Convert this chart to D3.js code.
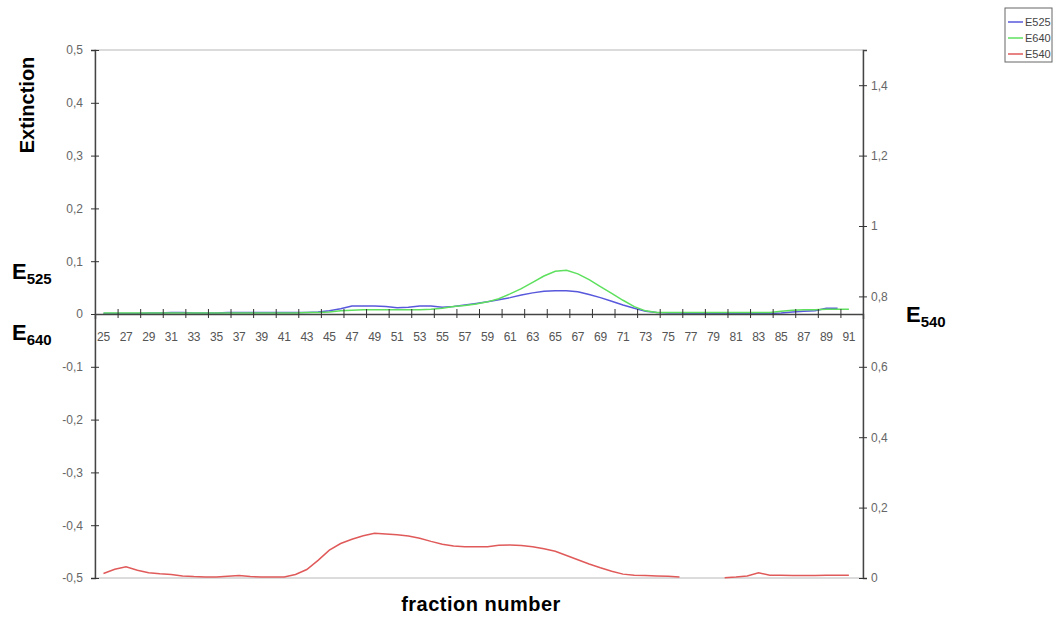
<!DOCTYPE html>
<html>
<head>
<meta charset="utf-8">
<script src="https://cdn.jsdelivr.net/npm/d3@7"></script>
<style>
  body { margin: 0; background: #fff; }
  text { font-family: Arial, "Liberation Sans", sans-serif; }
</style>
</head>
<body>
<svg width="1054" height="623"></svg>
<script>
// номера фракций
const fractions = [25,26,27,28,29,30,31,32,33,34,35,36,37,38,39,40,41,42,43,44,45,46,47,48,49,50,
  51,52,53,54,55,56,57,58,59,60,61,62,63,64,65,66,67,68,69,70,71,72,73,74,75,76,77,78,79,80,
  81,82,83,84,85,86,87,88,89,90,91];

// левая ось
const e525 = [0.001,0.001,0.001,0.001, 0.002,0.002,0.003,0.003, 0.002,0.002,0.002,0.003,
  0.003,0.003,0.003,0.003, 0.003,0.003,0.003,0.004, 0.006,0.010,0.015,0.015,
  0.015,0.014,0.012,0.013, 0.015,0.015,0.013,0.014, 0.017,0.020,0.023,0.027,
  0.031,0.036,0.040,0.043, 0.044,0.044,0.042,0.037, 0.031,0.024,0.017,0.011,
  0.005,0.003,0.002,0.002, 0.001,0.001,0.001,0.001, 0.001,0.001,0.001,0.001,
  0.002,0.004,0.005,0.006, 0.011,0.011,null];

const e640 = [0.002,0.002,0.002,0.002, 0.002,0.002,0.002,0.002, 0.002,0.002,0.002,0.002,
  0.002,0.002,0.002,0.002, 0.002,0.002,0.003,0.003, 0.004,0.006,0.007,0.008,
  0.008,0.008,0.008,0.008, 0.008,0.009,0.011,0.014, 0.016,0.019,0.023,0.029,
  0.038,0.048,0.060,0.072, 0.081,0.083,0.076,0.065, 0.052,0.039,0.026,0.014,
  0.006,0.003,0.003,0.003, 0.003,0.003,0.003,0.003, 0.003,0.003,0.003,0.003,
  0.005,0.007,0.008,0.008, 0.009,0.009,0.009];

// правая ось
const e540 = [0.013,0.025,0.032,0.022, 0.015,0.012,0.010,0.006, 0.004,0.003,0.003,0.005,
  0.007,0.004,0.003,0.003, 0.003,0.010,0.024,0.050, 0.079,0.098,0.110,0.120,
  0.127,0.125,0.123,0.119, 0.113,0.104,0.096,0.091, 0.089,0.089,0.089,0.093,
  0.094,0.092,0.089,0.083, 0.076,0.064,0.052,0.040, 0.029,0.019,0.011,0.008,
  0.007,0.006,0.005,0.003, null,null,null,0.001, 0.003,0.006,0.015,0.008,
  0.008,0.007,0.007,0.007, 0.008,0.008,0.008];

const leftTicks = [-0.5,-0.4,-0.3,-0.2,-0.1,0,0.1,0.2,0.3,0.4,0.5];
const rightTicks = [0,0.2,0.4,0.6,0.8,1,1.2,1.4];
const labelFractions = fractions.filter(f => f % 2 === 1);

const seriesNames = ['E525','E640','E540'];
const seriesColors = ['#5858dc','#5ee05e','#e05a5a'];

const plotLeft = 95, plotRight = 863, plotTop = 50, plotBottom = 578;

const svg = d3.select('svg');
const fmt = v => String(+v.toFixed(1)).replace('.', ',');

const x = d3.scaleLinear().domain([24.25, 92.25]).range([plotLeft, plotRight]);
const yL = d3.scaleLinear().domain([-0.5, 0.5]).range([plotBottom, plotTop]);
const yR = d3.scaleLinear().domain([0, 1.5]).range([plotBottom, plotTop]);

// рамка области графика
svg.append('rect')
  .attr('x', plotLeft).attr('y', plotTop)
  .attr('width', plotRight - plotLeft).attr('height', plotBottom - plotTop)
  .attr('fill', 'none').attr('stroke', '#b8b8b8');

function drawSeries(values, scale, color) {
  const pts = fractions.map((f, i) => ({f: f, v: values[i]}));
  const line = d3.line()
    .defined(d => d.v != null)
    .x(d => x(d.f))
    .y(d => scale(d.v));
  svg.append('path')
    .attr('d', line(pts))
    .attr('fill', 'none')
    .attr('stroke', color)
    .attr('stroke-width', 1.5);
}

drawSeries(e525, yL, seriesColors[0]);
drawSeries(e640, yL, seriesColors[1]);
drawSeries(e540, yR, seriesColors[2]);

// левая ось
const axL = svg.append('g').attr('transform', `translate(${plotLeft},0)`)
  .call(d3.axisLeft(yL).tickValues(leftTicks).tickSize(4).tickFormat(fmt));
axL.selectAll('.tick line').attr('x2', 4).attr('x1', -4);

// правая ось
const axR = svg.append('g').attr('transform', `translate(${plotRight},0)`)
  .call(d3.axisRight(yR).tickValues(rightTicks).tickSize(4).tickFormat(fmt));
axR.selectAll('.tick line').attr('x1', -4).attr('x2', 4);

[axL, axR].forEach(ax => {
  ax.select('.domain').attr('stroke', '#444').attr('stroke-width', 1.4);
  ax.selectAll('.tick line').attr('stroke', '#333');
  ax.selectAll('.tick text').attr('fill', '#666').style('font-size', '12px');
});
axL.selectAll('.tick text').attr('x', -12);
axR.selectAll('.tick text').attr('x', 8);

// ось X через ноль
const xTicks = d3.range(1, 34).map(k => 24.25 + 2 * k);
const axX = svg.append('g').attr('transform', `translate(0,${yL(0)})`)
  .call(d3.axisBottom(x).tickValues(xTicks).tickSize(5).tickFormat(''));
axX.select('.domain').attr('stroke', '#444').attr('stroke-width', 1.4);
axX.selectAll('.tick line').attr('y1', -5).attr('y2', 4).attr('stroke', '#333');

svg.append('g').selectAll('text')
  .data(labelFractions)
  .join('text')
  .attr('x', d => x(d))
  .attr('y', yL(0) + 27)
  .attr('text-anchor', 'middle')
  .attr('fill', '#555')
  .style('font-size', '12px')
  .style('letter-spacing', '-0.3px')
  .text(d => d);

// подписи осей
svg.append('text')
  .attr('transform', 'translate(34,105) rotate(-90)')
  .attr('text-anchor', 'middle')
  .style('font-size', '20px').style('font-weight', 'bold')
  .text('Extinction');

svg.append('text')
  .attr('x', 481).attr('y', 611)
  .attr('text-anchor', 'middle')
  .style('font-size', '20px').style('font-weight', 'bold')
  .style('letter-spacing', '0.5px')
  .text('fraction number');

function subLabel(px, py, sub) {
  const t = svg.append('text').attr('x', px).attr('y', py)
    .style('font-weight', 'bold');
  t.append('tspan').style('font-size', '22px').text('E');
  t.append('tspan').attr('dy', 5).style('font-size', '15px').text(sub);
}
subLabel(12, 279, '525');
subLabel(12, 340, '640');
subLabel(906, 322, '540');

// легенда
const lg = svg.append('g').attr('transform', 'translate(1005,8)');
lg.append('rect').attr('width', 47).attr('height', 54)
  .attr('fill', '#fff').attr('stroke', '#666');
seriesNames.forEach((name, i) => {
  const yy = 14 + i * 16;
  lg.append('line').attr('x1', 3).attr('x2', 18).attr('y1', yy).attr('y2', yy)
    .attr('stroke', seriesColors[i]).attr('stroke-width', 1.5);
  lg.append('text').attr('x', 20).attr('y', yy + 4)
    .attr('fill', '#444').style('font-size', '11px').text(name);
});
</script>
</body>
</html>
